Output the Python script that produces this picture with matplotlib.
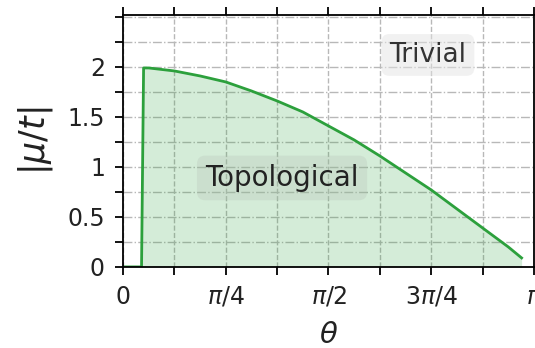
import numpy as np
import matplotlib
matplotlib.use("Agg")
import matplotlib.pyplot as plt
from matplotlib.ticker import MultipleLocator, FixedLocator

# boundary data (theta in units of pi)
theta_pi = [0.0, 0.045, 0.05, 0.0625, 0.125, 0.1875, 0.25, 0.3125, 0.375, 0.4375,
            0.5, 0.5625, 0.625, 0.6875, 0.75, 0.8125, 0.875, 0.9375, 0.97]
mu = [0.0, 0.0, 1.99, 1.99, 1.96, 1.91, 1.85, 1.76, 1.66, 1.55,
      1.41, 1.27, 1.11, 0.94, 0.77, 0.58, 0.39, 0.20, 0.09]

xtick_pos = [0, 0.25, 0.5, 0.75, 1.0]
xtick_labels = ["0", r"$\pi/4$", r"$\pi/2$", r"$3\pi/4$", r"$\pi$"]
ytick_pos = [0, 0.5, 1, 1.5, 2]
ytick_labels = ["0", "0.5", "1", "1.5", "2"]

x = np.array(theta_pi) * np.pi
y = np.array(mu)

fig = plt.figure(figsize=(5.35, 3.48), dpi=100)
ax = fig.add_axes([0.23, 0.233, 0.768, 0.724])

green = "#2ca03c"
ax.fill_between(x, 0, y, color=green, alpha=0.2, linewidth=0)
ax.plot(x, y, color=green, lw=2)

ax.set_xlim(0, np.pi)
ax.set_ylim(0, 2.52)
ax.xaxis.set_major_locator(FixedLocator(np.array(xtick_pos) * np.pi))
ax.set_xticklabels(xtick_labels)
ax.xaxis.set_minor_locator(MultipleLocator(np.pi / 8))
ax.set_yticks(ytick_pos)
ax.set_yticklabels(ytick_labels)
ax.yaxis.set_minor_locator(MultipleLocator(0.25))

ax.grid(which="both", axis="x", linestyle="--", color="#b8b8b8", lw=1)
ax.grid(which="both", axis="y", linestyle="-.", color="#b8b8b8", lw=1)
ax.set_axisbelow(True)

ax.tick_params(which="both", direction="out", length=6, width=1.3, top=True,
               labelsize=17, labelcolor="#222222")
ax.tick_params(axis="y", pad=7)
ax.tick_params(axis="x", pad=7)
for s in ax.spines.values():
    s.set_linewidth(1.3)

ax.set_xlabel(r"$\theta$", fontsize=21, labelpad=9, color="#222222")
ax.set_ylabel(r"$|\mu/t|$", fontsize=25, labelpad=9, color="#222222")

ax.text(0.387 * np.pi, 0.89, "Topological", fontsize=20, ha="center", va="center",
        color="#222222",
        bbox=dict(boxstyle="round,pad=0.3", fc="#b8c4b8", ec="none", alpha=0.3))
ax.text(0.742 * np.pi, 2.12, "Trivial", fontsize=19, ha="center", va="center",
        color="#333333",
        bbox=dict(boxstyle="round,pad=0.3", fc="#e4e4e4", ec="none", alpha=0.5))

fig.savefig("out.png", dpi=100)
